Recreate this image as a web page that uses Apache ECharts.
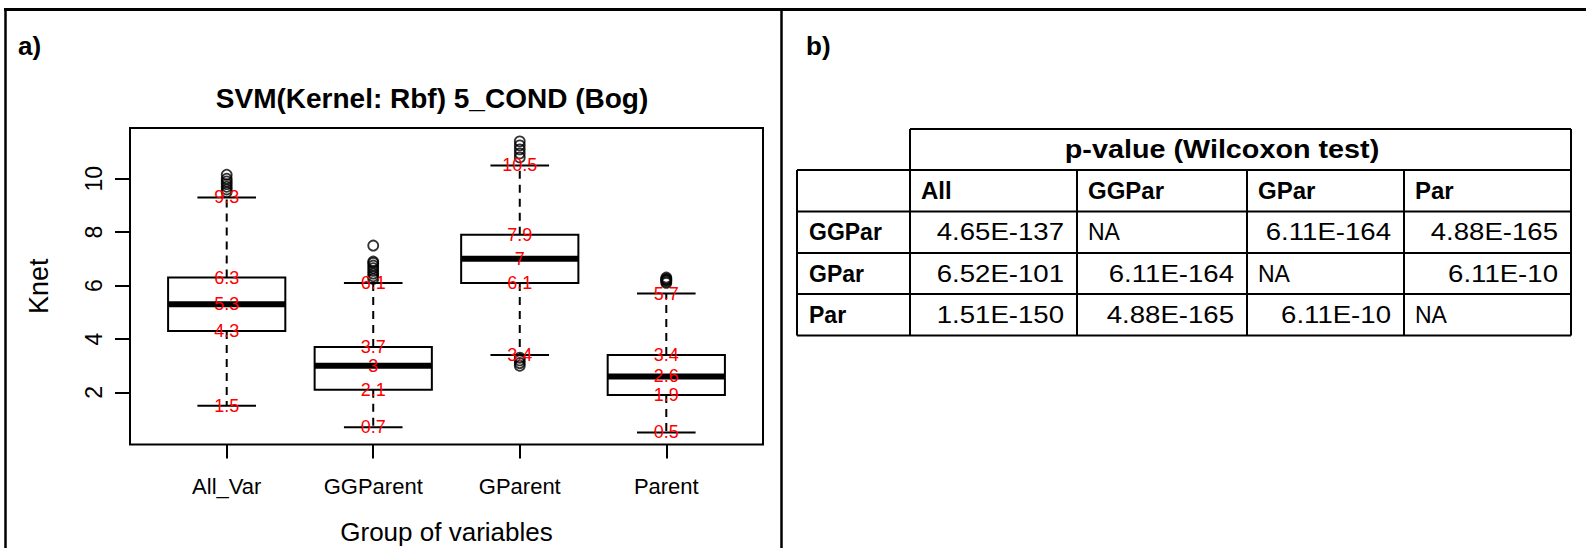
<!DOCTYPE html>
<html>
<head>
<meta charset="utf-8">
<script src="https://cdn.jsdelivr.net/npm/echarts@6/dist/echarts.min.js"></script>
<style>
  html, body { margin: 0; padding: 0; background: #fff; }
  #chart { width: 1586px; height: 548px; }
</style>
</head>
<body>
<div id="chart"></div>
<script>
// Groups on the x axis
const groups = ['All_Var', 'GGParent', 'GParent', 'Parent'];

// Box statistics per group (lower whisker, quartiles, median, upper whisker)
const lowerWhisker = [1.5, 0.7, 3.4, 0.5];
const q1           = [4.3, 2.1, 6.1, 1.9];
const median       = [5.3, 3, 7, 2.6];
const q3           = [6.3, 3.7, 7.9, 3.4];
const upperWhisker = [9.3, 6.1, 10.5, 5.7];

// Outlying points per group
const outliersAllVar   = [9.5, 9.6, 9.7, 9.8, 9.9, 10.0, 10.15];
const outliersGGParent = [6.25, 6.35, 6.45, 6.55, 6.65, 6.75, 6.85, 6.9, 7.5];
const outliersGParent  = [3.3, 3.2, 3.1, 3.0, 10.8, 10.95, 11.1, 11.25, 11.4];
const outliersParent   = [6.1, 6.15, 6.2, 6.22, 6.25, 6.3];

// Y axis tick values
const yTicks = [2, 4, 6, 8, 10];

// p-value table (Wilcoxon test)
const tableTitle = 'p-value (Wilcoxon test)';
const colHeads = ['All', 'GGPar', 'GPar', 'Par'];
const rowHeads = ['GGPar', 'GPar', 'Par'];
const pAll   = ['4.65E-137', '6.52E-101', '1.51E-150'];
const pGGPar = ['NA', '6.11E-164', '4.88E-165'];
const pGPar  = ['6.11E-164', 'NA', '6.11E-10'];
const pPar   = ['4.88E-165', '6.11E-10', 'NA'];

const FONT = '"Liberation Sans", Arial, Helvetica, sans-serif';

const boxData = groups.map((g, i) =>
  [i + 1, lowerWhisker[i], q1[i], median[i], q3[i], upperWhisker[i]]);

const outlierData = []
  .concat(outliersAllVar.map(v => [1, v]))
  .concat(outliersGGParent.map(v => [2, v]))
  .concat(outliersGParent.map(v => [3, v]))
  .concat(outliersParent.map(v => [4, v]));

function seg(x1, y1, x2, y2, w, dash) {
  const style = { stroke: '#000', lineWidth: w, lineCap: 'butt' };
  if (dash) style.lineDash = dash;
  return { type: 'line', shape: { x1, y1, x2, y2 }, style };
}

// R-style box: dashed whiskers, half-width staples, open box, heavy median
function renderBox(params, api) {
  const x = api.value(0);
  const p = [1, 2, 3, 4, 5].map(k => api.coord([x, api.value(k)]));
  const cx = p[0][0];
  const half = api.size([0.8, 0])[0] / 2;
  const st = half / 2;
  return {
    type: 'group',
    children: [
      seg(cx, p[3][1], cx, p[4][1], 2, [8, 6]),
      seg(cx, p[1][1], cx, p[0][1], 2, [8, 6]),
      seg(cx - st, p[4][1], cx + st, p[4][1], 2),
      seg(cx - st, p[0][1], cx + st, p[0][1], 2),
      { type: 'rect', shape: { x: cx - half, y: p[3][1], width: 2 * half, height: p[1][1] - p[3][1] },
        style: { fill: '#fff', stroke: '#000', lineWidth: 2 } },
      seg(cx - half, p[2][1], cx + half, p[2][1], 6)
    ]
  };
}

// Red value annotations at the five summary values
function renderLabels(params, api) {
  const x = api.value(0);
  const children = [];
  for (let k = 1; k <= 5; k++) {
    const v = api.value(k);
    const pt = api.coord([x, v]);
    children.push({
      type: 'text', x: pt[0], y: pt[1],
      style: { text: String(v), fill: '#ff0000', fontSize: 18, fontFamily: FONT,
               align: 'center', verticalAlign: 'middle' }
    });
  }
  return { type: 'group', children };
}

// ---- table layout ----
const colX = [797, 910, 1077, 1247, 1404, 1571];
const rowY = [129, 170, 211.5, 253, 294, 335.5];
const tableGraphics = [];
function tline(x1, y1, x2, y2) {
  tableGraphics.push({ type: 'line', shape: { x1, y1, x2, y2 },
    style: { stroke: '#000', lineWidth: 2 } });
}
tline(colX[1], rowY[0], colX[5], rowY[0]);
for (let r = 1; r < rowY.length; r++) tline(colX[0], rowY[r], colX[5], rowY[r]);
tline(colX[0], rowY[1], colX[0], rowY[5]);
tline(colX[1], rowY[0], colX[1], rowY[5]);
for (let c = 2; c <= 4; c++) tline(colX[c], rowY[1], colX[c], rowY[5]);
tline(colX[5], rowY[0], colX[5], rowY[5]);

// cell text; the numeric face is set a little wide
function ttext(txt, x, y, align, size, bold, sx) {
  tableGraphics.push({
    type: 'text', x, y, scaleX: sx || 1,
    style: { text: txt, fill: '#000', fontSize: size, fontFamily: FONT,
             fontWeight: bold ? 'bold' : 'normal', align, verticalAlign: 'middle' }
  });
}
const rowMid = r => (rowY[r] + rowY[r + 1]) / 2;
ttext(tableTitle, 1222, rowMid(0), 'center', 25, true, 1.15);
colHeads.forEach((h, j) => ttext(h, colX[j + 1] + 11, rowMid(1), 'left', 24, true));
const tableCols = [pAll, pGGPar, pGPar, pPar];
rowHeads.forEach((h, i) => {
  ttext(h, colX[0] + 12, rowMid(i + 2), 'left', 23, true);
  tableCols.forEach((col, j) => {
    const v = col[i];
    if (v === 'NA') ttext(v, colX[j + 1] + 11, rowMid(i + 2), 'left', 23, false);
    else ttext(v, colX[j + 2] - 13, rowMid(i + 2), 'right', 23, false, 1.2);
  });
});

// ---- panel frame, panel letters and plot title ----
const frameGraphics = [
  { type: 'line', shape: { x1: 4, y1: 9.5, x2: 1586, y2: 9.5 }, style: { stroke: '#000', lineWidth: 3 } },
  { type: 'line', shape: { x1: 5.5, y1: 8, x2: 5.5, y2: 548 }, style: { stroke: '#000', lineWidth: 2.5 } },
  { type: 'line', shape: { x1: 781.5, y1: 8, x2: 781.5, y2: 548 }, style: { stroke: '#000', lineWidth: 2.5 } },
  { type: 'text', x: 18, y: 46, style: { text: 'a)', fill: '#000', fontSize: 26, fontWeight: 'bold',
      fontFamily: FONT, align: 'left', verticalAlign: 'middle' } },
  { type: 'text', x: 806, y: 46, style: { text: 'b)', fill: '#000', fontSize: 26, fontWeight: 'bold',
      fontFamily: FONT, align: 'left', verticalAlign: 'middle' } },
  { type: 'text', x: 432, y: 98, style: { text: 'SVM(Kernel: Rbf) 5_COND (Bog)', fill: '#000',
      fontSize: 28, fontWeight: 'bold', fontFamily: FONT, align: 'center', verticalAlign: 'middle' } }
];

const chart = echarts.init(document.getElementById('chart'), null, { renderer: 'svg' });
chart.setOption({
  animation: false,
  backgroundColor: '#fff',
  textStyle: { fontFamily: FONT, color: '#000' },
  grid: { left: 130, top: 128, width: 633, height: 316.5, show: true,
          outerBoundsMode: 'none', containLabel: false,
          borderColor: '#000', borderWidth: 2, backgroundColor: 'transparent' },
  xAxis: {
    type: 'value', min: 0.34, max: 4.66,
    name: 'Group of variables', nameLocation: 'middle', nameGap: 74,
    nameTextStyle: { fontSize: 26, color: '#000', fontFamily: FONT },
    axisLine: { show: false },
    splitLine: { show: false },
    axisTick: { show: true, inside: false, length: 14, customValues: [1, 2, 3, 4],
                lineStyle: { color: '#000', width: 2 } },
    axisLabel: { customValues: [1, 2, 3, 4], formatter: v => groups[Math.round(v) - 1],
                 fontSize: 22, color: '#000', fontFamily: FONT, margin: 31 }
  },
  yAxis: {
    type: 'value', min: 0.05, max: 11.9,
    name: 'Knet', nameLocation: 'middle', nameRotate: 90, nameGap: 78,
    nameTextStyle: { fontSize: 27, color: '#000', fontFamily: FONT },
    axisLine: { show: false },
    splitLine: { show: false },
    axisTick: { show: true, inside: false, length: 15, customValues: yTicks,
                lineStyle: { color: '#000', width: 2 } },
    axisLabel: { customValues: yTicks, rotate: 90, fontSize: 23, color: '#000',
                 fontFamily: FONT, margin: 25 }
  },
  series: [
    { type: 'custom', name: 'boxes', data: boxData, renderItem: renderBox, z: 2,
      encode: { x: 0, y: [1, 2, 3, 4, 5] } },
    { type: 'scatter', name: 'outliers', data: outlierData, symbol: 'circle', symbolSize: 10, z: 3,
      itemStyle: { color: 'rgba(0,0,0,0)', borderColor: '#000', borderWidth: 1.8 } },
    { type: 'custom', name: 'values', data: boxData, renderItem: renderLabels, z: 4,
      encode: { x: 0, y: [1, 2, 3, 4, 5] } }
  ],
  graphic: { elements: frameGraphics.concat(tableGraphics) }
});
</script>
</body>
</html>
